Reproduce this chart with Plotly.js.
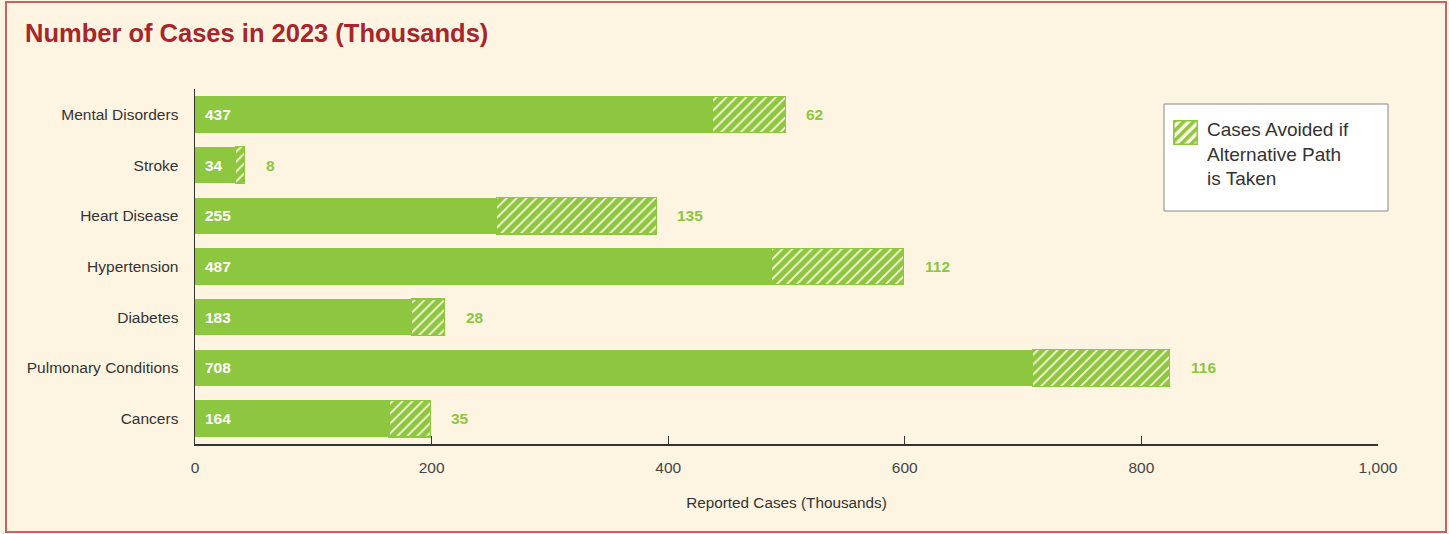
<!DOCTYPE html>
<html>
<head>
<meta charset="utf-8">
<script src="https://cdn.plot.ly/plotly-3.0.1.min.js"></script>
<style>
  html, body { margin: 0; padding: 0; background: #fdf5e2; }
  #chart { width: 1449px; height: 534px; }
</style>
</head>
<body>
<div id="chart"></div>
<script>
const categories = ["Mental Disorders", "Stroke", "Heart Disease", "Hypertension", "Diabetes", "Pulmonary Conditions", "Cancers"];
const reportedCases = [437, 34, 255, 487, 183, 708, 164];
const avoidedCases = [62, 8, 135, 112, 28, 116, 35];
const xTickValues = [0, 200, 400, 600, 800, 1000];
const legendLabel = "Cases Avoided if<br>Alternative Path<br>is Taken";

const GREEN = "#8dc63f";
const CREAM = "#fdf5e2";
const FONT = "Liberation Sans, Arial, sans-serif";

const traces = [
  {
    type: "bar", orientation: "h", y: categories, x: reportedCases,
    name: "Reported Cases",
    marker: { color: GREEN, line: { width: 0 } },
    width: 0.72, showlegend: false, hoverinfo: "x+y"
  },
  {
    type: "bar", orientation: "h", y: categories, x: avoidedCases,
    name: legendLabel,
    marker: {
      color: CREAM,
      line: { color: GREEN, width: 1.2 },
      pattern: { shape: "/", fgcolor: GREEN, bgcolor: CREAM, size: 7, solidity: 0.75, fgopacity: 1, fillmode: "overlay" }
    },
    width: 0.72, showlegend: false, hoverinfo: "x+y"
  }
];

const annotations = [];
categories.forEach((c, i) => {
  annotations.push({
    x: 0, y: c, xref: "x", yref: "y", text: "<b>" + reportedCases[i] + "</b>",
    showarrow: false, xanchor: "left", xshift: 8,
    font: { family: FONT, size: 15.5, color: "#ffffff" }
  });
  annotations.push({
    x: reportedCases[i] + avoidedCases[i], y: c, xref: "x", yref: "y",
    text: "<b>" + avoidedCases[i] + "</b>",
    showarrow: false, xanchor: "left", xshift: 19,
    font: { family: FONT, size: 15.5, color: GREEN }
  });
});

// legend text (box + swatch drawn below)
annotations.push({
  x: (1205 - 195) / 1183, y: (444 - 117) / 355, xref: "paper", yref: "paper",
  xanchor: "left", yanchor: "top", align: "left", showarrow: false,
  text: legendLabel, font: { family: FONT, size: 19, color: "#333333" }
});

const swatchSvg =
  "<svg xmlns='http://www.w3.org/2000/svg' width='25' height='25'>" +
  "<defs><pattern id='p' width='7' height='7' patternUnits='userSpaceOnUse' patternTransform='rotate(45)'>" +
  "<rect width='3.6' height='7' fill='" + GREEN + "'/></pattern></defs>" +
  "<rect width='25' height='25' fill='" + CREAM + "'/>" +
  "<rect width='25' height='25' fill='url(#p)'/>" +
  "<rect x='0.75' y='0.75' width='23.5' height='23.5' fill='none' stroke='" + GREEN + "' stroke-width='1.5'/></svg>";

const layout = {
  width: 1449, height: 534,
  paper_bgcolor: CREAM, plot_bgcolor: CREAM,
  font: { family: FONT, size: 14, color: "#333333" },
  margin: { l: 195, r: 71, t: 89, b: 90 },
  barmode: "stack",
  showlegend: false,
  title: {
    text: "<b>Number of Cases in 2023 (Thousands)</b>",
    x: 25 / 1449, xanchor: "left", xref: "container",
    y: 1 - 33 / 534, yanchor: "middle", yref: "container",
    font: { family: FONT, size: 25.5, color: "#a8262b" }
  },
  xaxis: {
    range: [0, 1000], tickvals: xTickValues, tickformat: ",",
    ticks: "inside", ticklen: 8, tickcolor: "#333", tickwidth: 1,
    showline: true, linecolor: "#333", linewidth: 1.5,
    showgrid: false, zeroline: false, mirror: false,
    tickfont: { family: FONT, size: 15.5, color: "#444" },
    ticklabelstandoff: 9,
    title: { text: "Reported Cases (Thousands)", standoff: 22, font: { family: FONT, size: 15.3, color: "#333" } },
    fixedrange: true
  },
  yaxis: {
    autorange: false, range: [6.5, -0.5],
    type: "category", categoryorder: "array", categoryarray: categories,
    showline: true, linecolor: "#333", linewidth: 1.5,
    ticks: "", showgrid: false, zeroline: false,
    tickfont: { family: FONT, size: 15.5, color: "#333" },
    ticklabelstandoff: 12,
    fixedrange: true
  },
  images: [
    { source: "data:image/svg+xml;charset=utf-8," + encodeURIComponent(swatchSvg),
      xref: "paper", yref: "paper",
      x: (1173 - 195) / 1183, y: (444 - 120) / 355,
      sizex: 25 / 1183, sizey: 25 / 355,
      xanchor: "left", yanchor: "top", sizing: "stretch", layer: "above" }
  ],
  shapes: [
    { type: "rect", xref: "paper", yref: "paper",
      x0: (1164 - 195) / 1183, x1: (1388 - 195) / 1183,
      y0: (444 - 211) / 355, y1: (444 - 104) / 355,
      fillcolor: "#ffffff", line: { color: "#888888", width: 1 }, layer: "below" },
    { type: "rect", xref: "paper", yref: "paper",
      x0: -189 / 1183, x1: 1 + 68 / 1183,
      y0: -88 / 355, y1: 1 + 87 / 355,
      fillcolor: "rgba(0,0,0,0)", line: { color: "#c56467", width: 2 }, layer: "above" }
  ],
  annotations: annotations
};

Plotly.newPlot("chart", traces, layout, { displayModeBar: false, staticPlot: true });
</script>
</body>
</html>
